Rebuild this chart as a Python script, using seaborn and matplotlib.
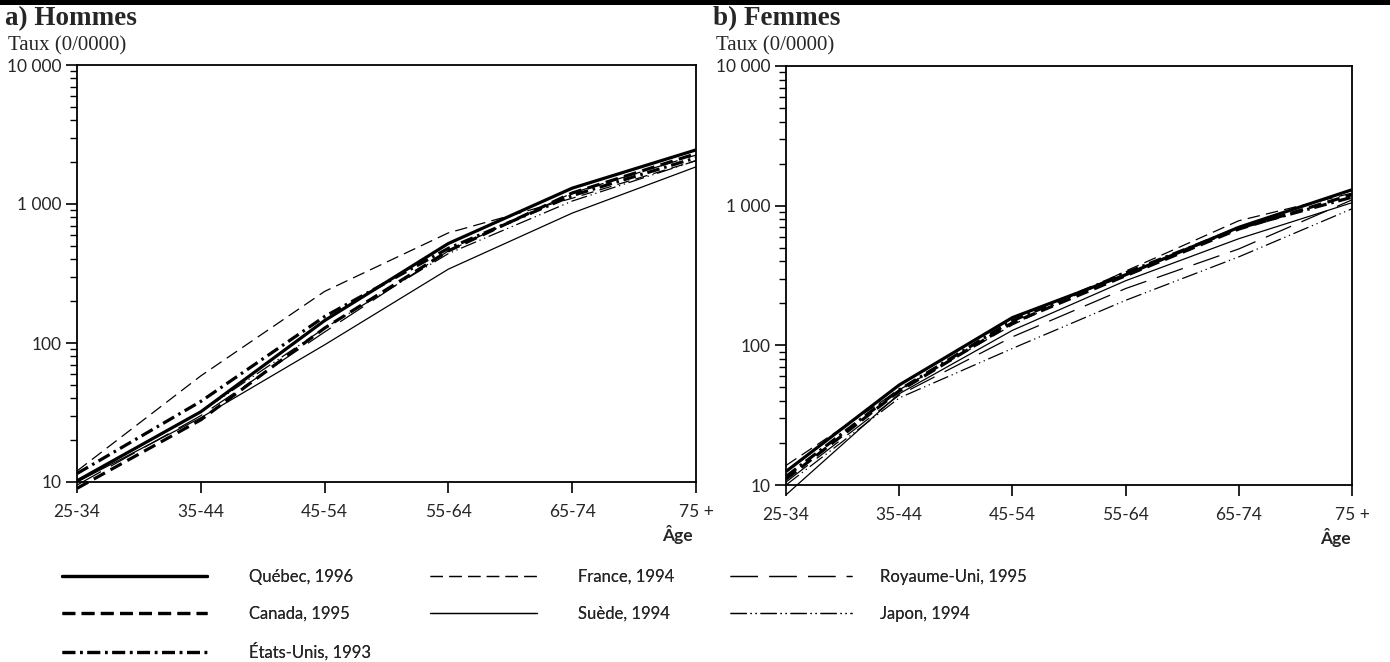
import pandas as pd
import matplotlib.pyplot as plt
import seaborn as sns
from matplotlib.patches import Rectangle
from matplotlib.lines import Line2D
from matplotlib.ticker import NullFormatter

# --- données (taux pour 10 000) ---
ages = ["25-34", "35-44", "45-54", "55-64", "65-74", "75 +"]
pays = ["Québec, 1996", "Canada, 1995", "États-Unis, 1993", "France, 1994",
        "Suède, 1994", "Royaume-Uni, 1995", "Japon, 1994"]

hommes_quebec = [10.2, 32, 145, 520, 1300, 2450]
hommes_canada = [9.0, 28, 128, 460, 1200, 2300]
hommes_usa = [11.5, 38, 155, 480, 1150, 2150]
hommes_france = [12.0, 58, 235, 620, 1100, 2050]
hommes_suede = [10.0, 29, 97, 340, 860, 1850]
hommes_ru = [9.5, 30, 120, 460, 1200, 2250]
hommes_japon = [10.0, 32, 128, 440, 1050, 2050]

femmes_quebec = [12.5, 52, 158, 320, 700, 1300]
femmes_canada = [11.0, 47, 145, 315, 680, 1200]
femmes_usa = [11.5, 48, 150, 330, 690, 1150]
femmes_france = [13.8, 48, 140, 340, 780, 1230]
femmes_suede = [8.5, 45, 128, 290, 580, 1050]
femmes_ru = [10.5, 44, 115, 255, 490, 1100]
femmes_japon = [10.0, 42, 95, 210, 430, 950]

hommes = [hommes_quebec, hommes_canada, hommes_usa, hommes_france,
          hommes_suede, hommes_ru, hommes_japon]
femmes = [femmes_quebec, femmes_canada, femmes_usa, femmes_france,
          femmes_suede, femmes_ru, femmes_japon]

# traits : épaisseur et pointillés par pays
largeurs = {"Québec, 1996": 2.3, "Canada, 1995": 2.3, "États-Unis, 1993": 2.3,
            "France, 1994": 0.9, "Suède, 1994": 0.9, "Royaume-Uni, 1995": 0.9,
            "Japon, 1994": 0.9}
tirets = {"Québec, 1996": "", "Canada, 1995": (4, 2), "États-Unis, 1993": (4, 1.5, 0.8, 1.5),
          "France, 1994": (10, 5), "Suède, 1994": "", "Royaume-Uni, 1995": (22, 9),
          "Japon, 1994": (13, 3, 1, 3, 1, 3)}


def to_long(series):
    rows = []
    for nom, vals in zip(pays, series):
        for i, v in enumerate(vals):
            rows.append({"pays": nom, "age": i, "taux": v})
    return pd.DataFrame(rows)


sns.set_theme(style="ticks")
sans = ["Lato", "DejaVu Sans"]
serif = ["Liberation Serif", "DejaVu Serif"]
plt.rcParams["font.family"] = sans

fig = plt.figure(figsize=(13.9, 6.62), dpi=100)
ax_h = fig.add_axes([77 / 1390, 1 - 482 / 662, 619 / 1390, 417 / 662])
ax_f = fig.add_axes([786 / 1390, 1 - 485 / 662, 566 / 1390, 419 / 662])

for ax, data, titre, x0 in [(ax_h, hommes, "a) Hommes", 5), (ax_f, femmes, "b) Femmes", 713)]:
    df = to_long(data)
    sns.lineplot(data=df, x="age", y="taux", style="pays", size="pays",
                 sizes=largeurs, dashes=tirets, color="black", legend=False,
                 estimator=None, sort=False, ax=ax)
    for ln in ax.get_lines():
        ln.set_clip_on(False)
        ln.set_solid_capstyle("butt")
    ax.set_yscale("log")
    ax.set_ylim(10, 10000)
    ax.set_xlim(0, 5)
    ax.set_yticks([10, 100, 1000, 10000], ["10", "100", "1 000", "10 000"])
    ax.yaxis.set_minor_formatter(NullFormatter())
    ax.set_xticks(range(len(ages)), ages)
    ax.tick_params(axis="both", which="major", length=8, width=1.2, color="black",
                   labelsize=12.5, pad=3)
    ax.tick_params(axis="y", which="minor", length=5, width=1, color="black")
    ax.tick_params(axis="x", pad=8)
    for s in ax.spines.values():
        s.set_visible(True)
        s.set_linewidth(1.3)
        s.set_color("black")
    ax.set_xlabel("")
    ax.set_ylabel("")
    ax.text(0.97, -0.125, "Âge", transform=ax.transAxes, ha="center", va="center",
            fontsize=12.5, fontweight="bold", family=sans)
    fig.text(x0 / 1390, 1 - 19 / 662, titre, fontsize=19.5, fontweight="bold",
             family=serif, ha="left", va="center")
    fig.text((x0 + 3) / 1390, 1 - 46 / 662, "Taux (0/0000)", fontsize=15,
             family=serif, ha="left", va="center")

# barre noire en haut
fig.add_artist(Rectangle((0, 1 - 5 / 662), 1, 5 / 662, transform=fig.transFigure,
                         color="black", lw=0))


def poignee(nom):
    d = tirets[nom]
    ln = Line2D([], [], color="black", lw=largeurs[nom])
    if d != "":
        ln.set_dashes(d)
    return ln


colonnes = [(pays[0:3], 62, 8.7, 2.5), (pays[3:5], 430, 6.4, 2.5), (pays[5:7], 730, 7.3, 1.7)]
for noms, xg, hl, tp in colonnes:
    leg = fig.legend([poignee(n) for n in noms], noms, loc="upper left",
                     bbox_to_anchor=(xg / 1390, 1 - 569 / 662), frameon=False,
                     fontsize=12, handlelength=hl, handletextpad=tp,
                     labelspacing=1.25, borderpad=0, borderaxespad=0)
    fig.add_artist(leg)

fig.savefig("out.png", dpi=100)
